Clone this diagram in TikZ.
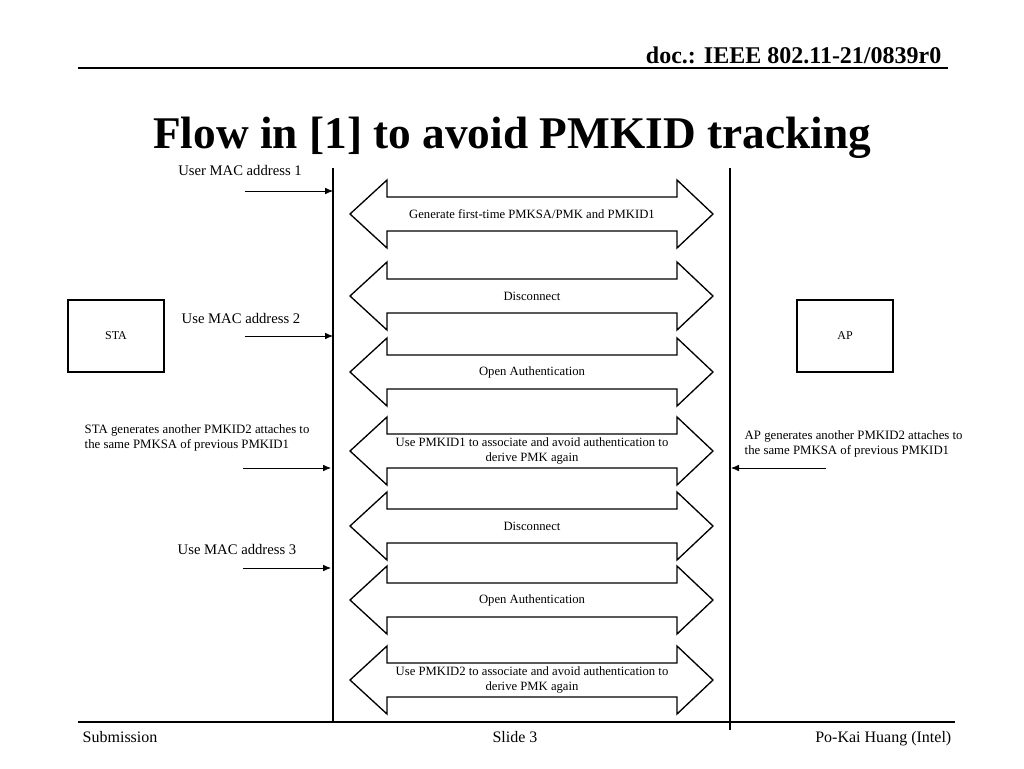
\documentclass[tikz,border=0pt]{standalone}
\usepackage{fontspec}
\setmainfont{Liberation Serif}
\usetikzlibrary{arrows.meta}
\begin{document}
\begin{tikzpicture}[x=0.75pt,y=-0.75pt,
  lbl/.style={font=\fontsize{9.5}{11.5}\selectfont,align=center},
  side/.style={font=\fontsize{9.6}{11.5}\selectfont,align=left,anchor=west},
  mac/.style={font=\fontsize{11}{13}\selectfont},
  foot/.style={font=\fontsize{12}{14}\selectfont,anchor=base},
  arr/.style={-{Latex[length=6pt,width=5pt]},line width=0.6pt},
  box/.style={draw,line width=1pt,minimum width=72pt,minimum height=54pt,font=\fontsize{9}{10}\selectfont}]
\useasboundingbox (0,0) rectangle (1024,768);
\node[anchor=east,font=\bfseries\fontsize{18}{20}\selectfont] (hdr) at (946,55) {doc.: IEEE 802.11-21/0839r0};
\draw[line width=0.8pt] (78,68) -- (948,68);
\node[font=\bfseries\fontsize{34}{38}\selectfont] (title) at (512,138) {Flow in [1] to avoid PMKID tracking};
\draw[line width=0.8pt] (78,722) -- (955,722);
\node[foot,anchor=base west] (sub) at (78,742) {Submission};
\node[foot] (slide) at (515,742) {Slide 3};
\node[foot,anchor=base east] (auth) at (956,742) {Po-Kai Huang (Intel)};
\coordinate (l1) at (333,168); \coordinate (l2) at (333,722);
\coordinate (r1) at (730,168); \coordinate (r2) at (730,730);
\draw[line width=0.8pt] (l1) -- (l2);
\draw[line width=0.8pt] (r1) -- (r2);
\foreach \c/\t in {214/{Generate first-time PMKSA/PMK and PMKID1},296/{Disconnect},372/{Open Authentication},451/{Use PMKID1 to associate and avoid authentication to\\derive PMK again},526/{Disconnect},600/{Open Authentication},680/{Use PMKID2 to associate and avoid authentication to\\derive PMK again}}{
  \draw[line width=1pt,fill=white] (350,\c) -- (387,\c-34) -- (387,\c-17) -- (677,\c-17) -- (677,\c-34) -- (713,\c) -- (677,\c+34) -- (677,\c+17) -- (387,\c+17) -- (387,\c+34) -- cycle;
  \node[lbl] at (532,\c) {\t};
}
\node[box] (sta) at (116,336) {STA};
\node[box] (ap) at (845,336) {AP};
\node[mac] (m1) at (240,170) {User MAC address 1};
\coordinate (a1s) at (245,191); \coordinate (a1e) at (333,191);
\draw[arr] (a1s) -- (a1e);
\node[mac] (m2) at (241,318) {Use MAC address 2};
\coordinate (a2s) at (245,336); \coordinate (a2e) at (333,336);
\draw[arr] (a2s) -- (a2e);
\node[side] (sg) at (80,438) {STA generates another PMKID2 attaches to\\the same PMKSA of previous PMKID1};
\coordinate (a3s) at (243,468); \coordinate (a3e) at (331,468);
\draw[arr] (a3s) -- (a3e);
\node[mac] (m3) at (237,549) {Use MAC address 3};
\coordinate (a4s) at (243,568); \coordinate (a4e) at (331,568);
\draw[arr] (a4s) -- (a4e);
\node[side] (ag) at (740,444) {AP generates another PMKID2 attaches to\\the same PMKSA of previous PMKID1};
\coordinate (a5s) at (826,468); \coordinate (a5e) at (731,468);
\draw[arr] (a5s) -- (a5e);
\end{tikzpicture}
\end{document}
